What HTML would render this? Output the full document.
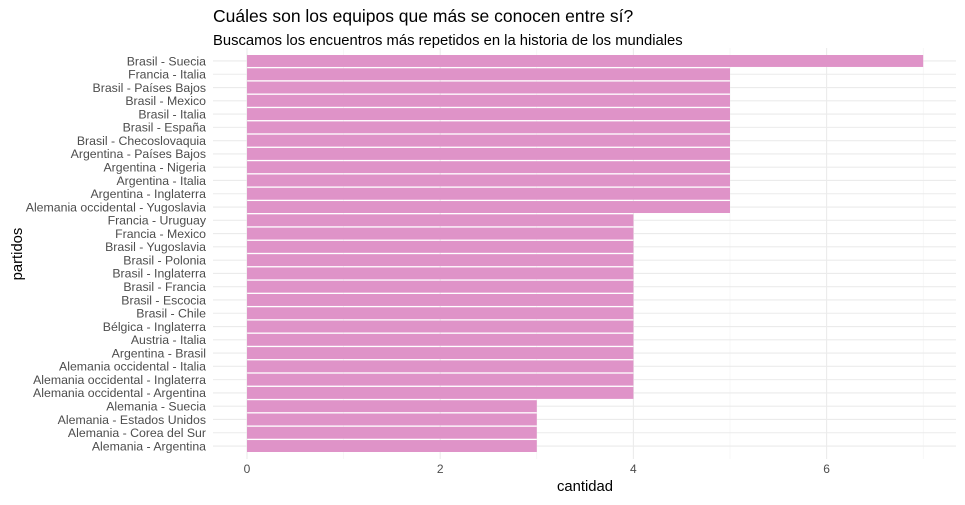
<!DOCTYPE html>
<html><head><meta charset="utf-8"><style>body{margin:0;background:#fff}</style></head><body>
<svg id="svg" width="965" height="500" xmlns="http://www.w3.org/2000/svg" font-family="Liberation Sans, sans-serif">
<rect width="965" height="500" fill="#fff"/>
<g id="g"></g>
<text x="213" y="22" font-size="17.5" fill="#000">Cuáles son los equipos que más se conocen entre sí?</text>
<text x="213" y="45" font-size="14.8" fill="#000">Buscamos los encuentros más repetidos en la historia de los mundiales</text>
<text x="585" y="491" font-size="14.8" text-anchor="middle" fill="#000">cantidad</text>
<text transform="translate(22,254) rotate(-90)" font-size="14.8" text-anchor="middle" fill="#000">partidos</text>
</svg>
<script>
(function(){
var d=[["Brasil - Suecia",7],["Francia - Italia",5],["Brasil - Países Bajos",5],["Brasil - Mexico",5],["Brasil - Italia",5],["Brasil - España",5],["Brasil - Checoslovaquia",5],["Argentina - Países Bajos",5],["Argentina - Nigeria",5],["Argentina - Italia",5],["Argentina - Inglaterra",5],["Alemania occidental - Yugoslavia",5],["Francia - Uruguay",4],["Francia - Mexico",4],["Brasil - Yugoslavia",4],["Brasil - Polonia",4],["Brasil - Inglaterra",4],["Brasil - Francia",4],["Brasil - Escocia",4],["Brasil - Chile",4],["Bélgica - Inglaterra",4],["Austria - Italia",4],["Argentina - Brasil",4],["Alemania occidental - Italia",4],["Alemania occidental - Inglaterra",4],["Alemania occidental - Argentina",4],["Alemania - Suecia",3],["Alemania - Estados Unidos",3],["Alemania - Corea del Sur",3],["Alemania - Argentina",3]];
var n=d.length, y0=55, y1=452, step=(y1-y0)/(n-1+0.9), bh=step*0.9;
var x0=247, u=96.6, L=213, R=956, PT=48, PB=459;
var s='';
for(var i=0;i<=7;i++){var x=x0+i*u;s+='<line x1="'+x+'" y1="'+PT+'" x2="'+x+'" y2="'+PB+'" stroke="'+(i%2?'#f2f2f2':'#ebebeb')+'" stroke-width="'+(i%2?0.6:1.1)+'"/>';}
d.forEach(function(r,i){var cy=y0+i*step+bh/2;s+='<line x1="'+L+'" y1="'+cy+'" x2="'+R+'" y2="'+cy+'" stroke="#ebebeb" stroke-width="1.1"/>';});
d.forEach(function(r,i){var y=y0+i*step;var cy=y+bh/2;s+='<rect x="'+x0+'" y="'+y+'" width="'+(r[1]*u)+'" height="'+bh+'" fill="#df93c8"/><text x="206" y="'+(cy+4.3)+'" font-size="12.3" text-anchor="end" fill="#4d4d4d">'+r[0]+'</text>';});
[0,2,4,6].forEach(function(v){s+='<text x="'+(x0+v*u)+'" y="473" font-size="12" text-anchor="middle" fill="#4d4d4d">'+v+'</text>';});
var ns='http://www.w3.org/2000/svg';
var tmp=new DOMParser().parseFromString('<svg xmlns="'+ns+'">'+s+'</svg>','image/svg+xml');
var g=document.getElementById('g');
var kids=tmp.documentElement.childNodes;
while(kids.length){g.appendChild(document.importNode(kids[0],true));tmp.documentElement.removeChild(kids[0]);}
})();
</script>
</body></html>
